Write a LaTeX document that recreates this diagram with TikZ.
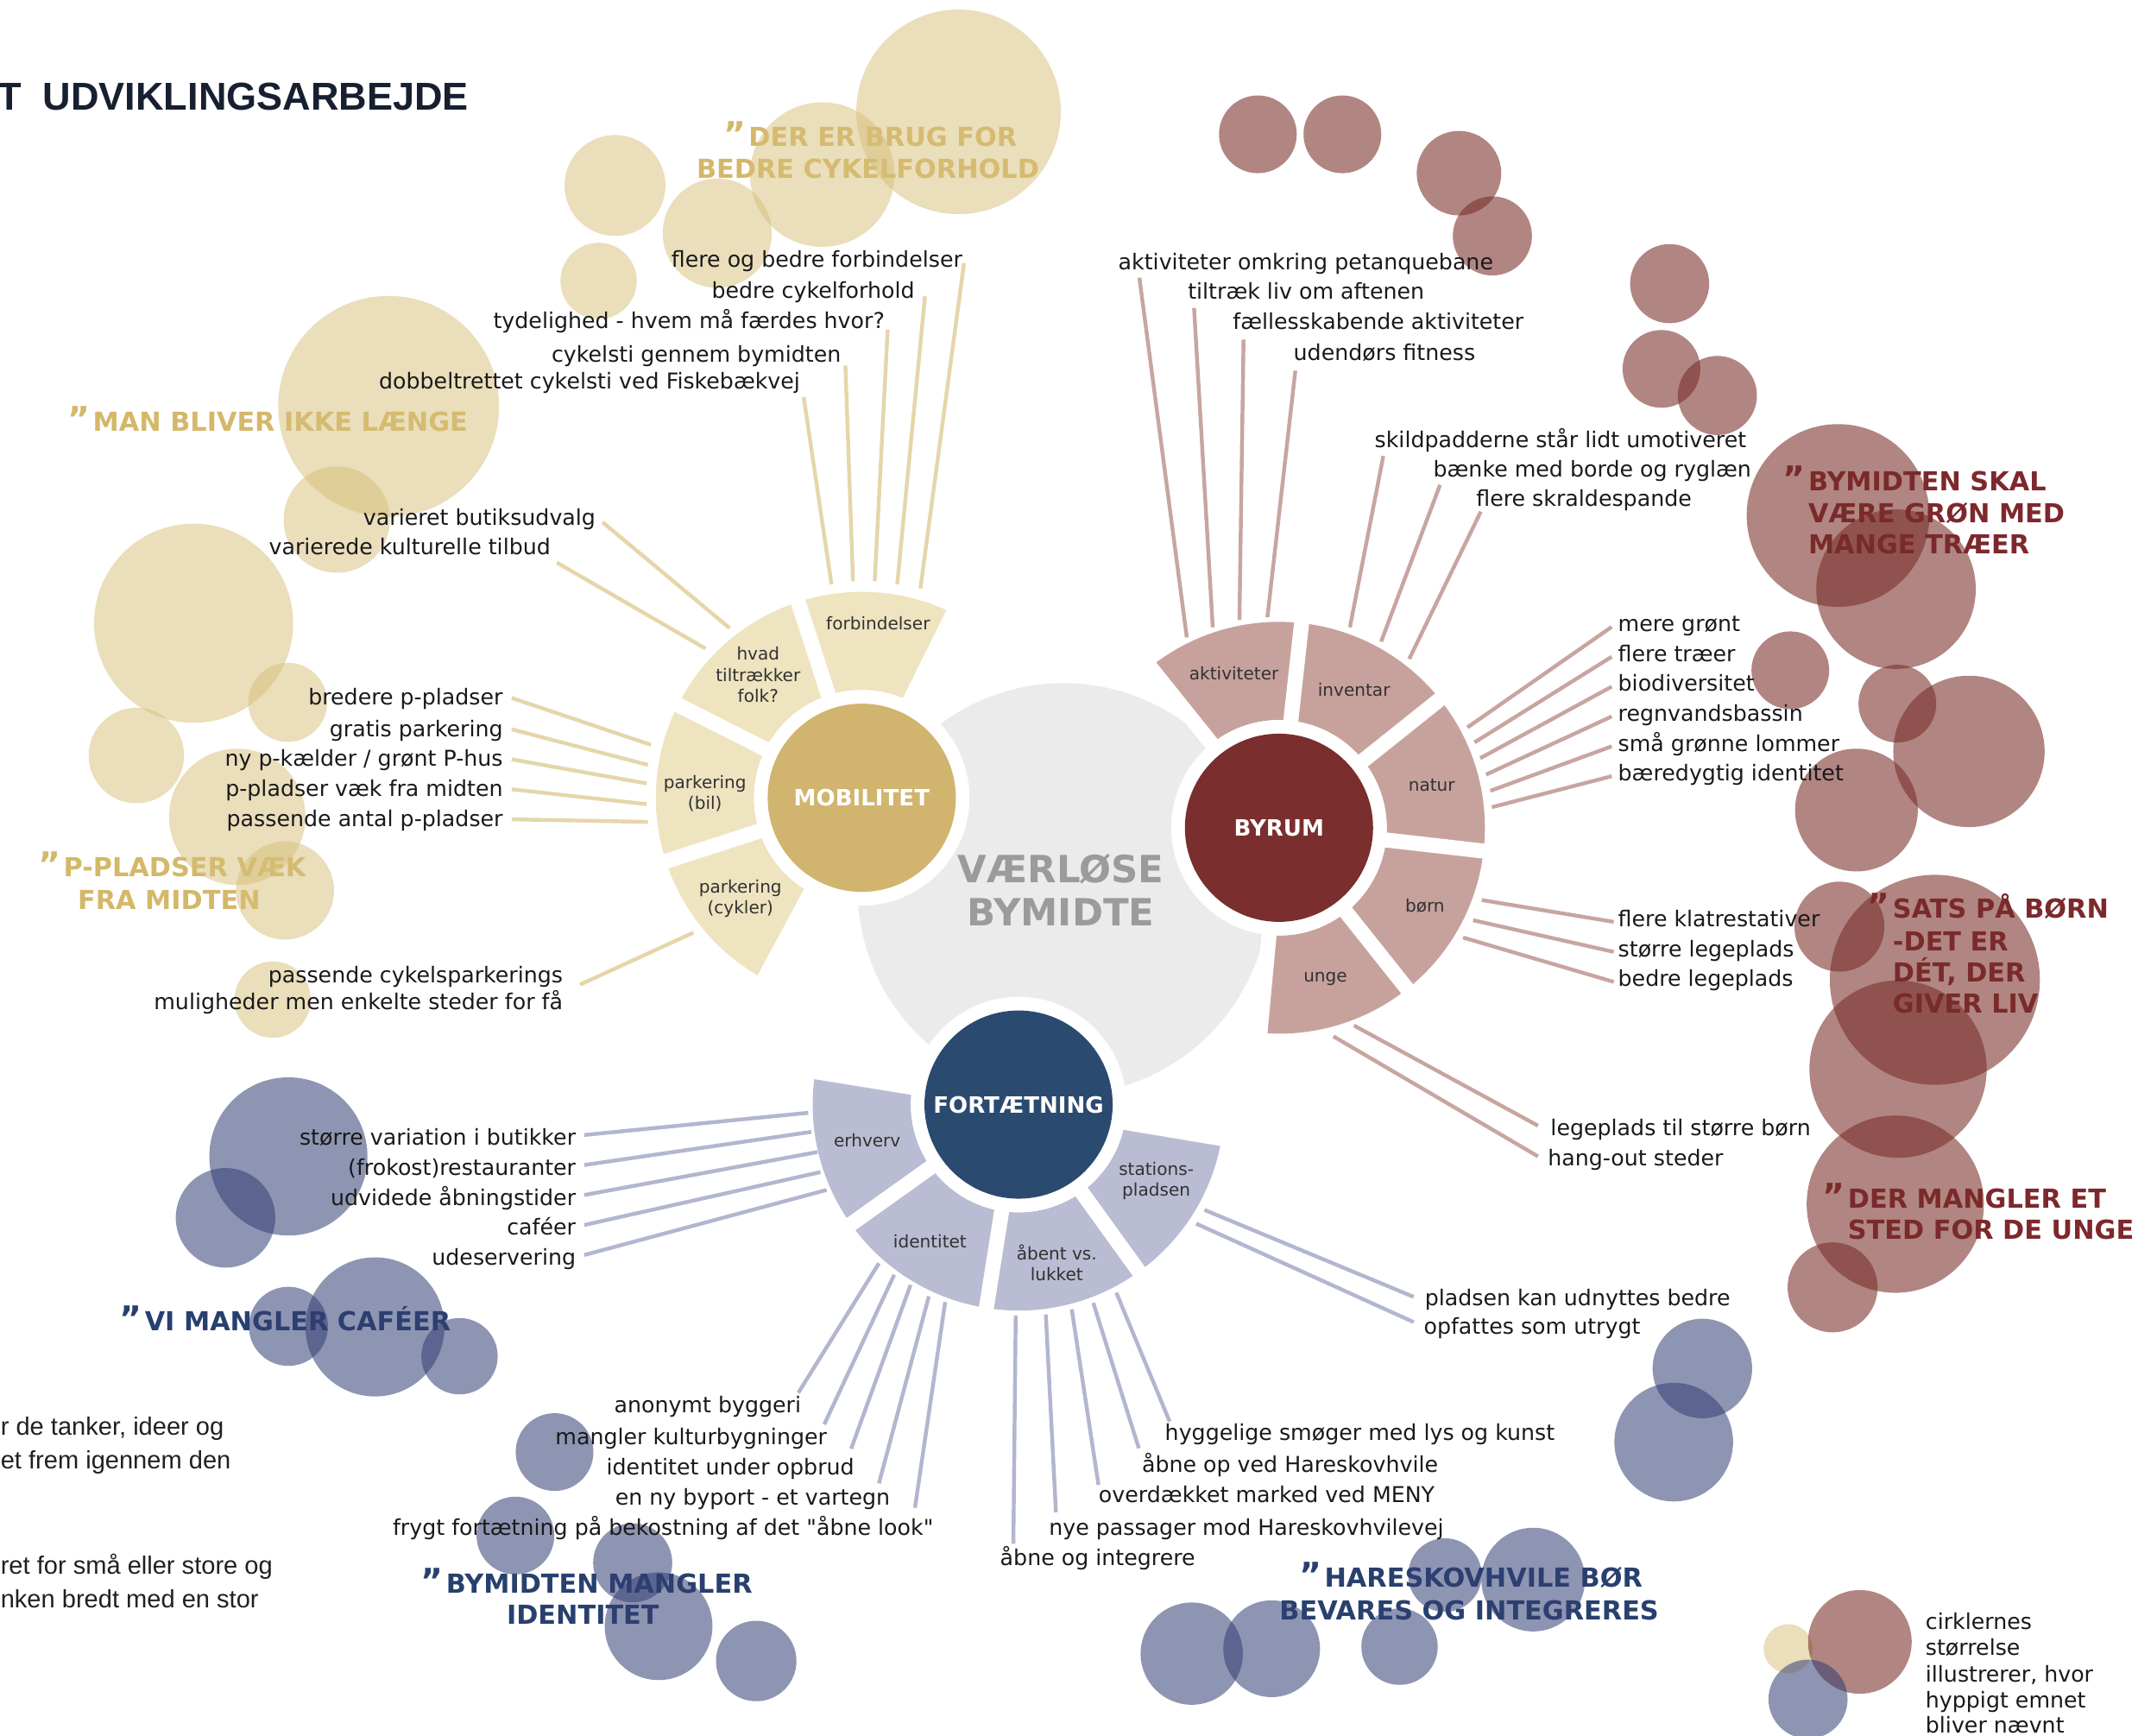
\documentclass[tikz,border=0pt]{standalone}
\usepackage{fontspec}
\setmainfont{DejaVu Sans}[Ligatures=TeXOff]
\newfontfamily\arialf{Liberation Sans}
\definecolor{ywedge}{RGB}{239,228,192}
\definecolor{rwedge}{RGB}{199,162,157}
\definecolor{bwedge}{RGB}{185,188,210}
\definecolor{ylinec}{RGB}{229,214,170}
\definecolor{rlinec}{RGB}{200,165,160}
\definecolor{blinec}{RGB}{178,182,206}
\definecolor{ycat}{RGB}{209,180,110}
\definecolor{rcat}{RGB}{122,46,46}
\definecolor{bcat}{RGB}{43,74,112}
\definecolor{ybub}{RGB}{214,190,120}
\definecolor{rbub}{RGB}{120,45,40}
\definecolor{bbub}{RGB}{50,62,115}
\definecolor{yq}{RGB}{212,184,105}
\definecolor{rq}{RGB}{125,40,45}
\definecolor{bq}{RGB}{40,64,110}
\definecolor{centgray}{RGB}{235,235,235}
\definecolor{centtext}{RGB}{155,155,155}
\definecolor{labc}{RGB}{25,25,25}
\definecolor{wlc}{RGB}{50,50,50}
\definecolor{titlec}{RGB}{22,32,48}
\definecolor{bodyc}{RGB}{35,31,32}
\newcommand{\qmark}{\makebox[21pt][r]{\fontsize{25}{25}\selectfont ”\kern2pt}}
\newcommand{\annsec}[5]{\fill[#1,shift={(#2,#3)}] (#4:151) arc[start angle=#4,end angle=#5,radius=151] -- (#5:79) arc[start angle=#5,end angle=#4,radius=79] -- cycle;}
\newcommand{\gapline}[3]{\draw[white,line width=11pt,shift={(#1,#2)}] (#3:70) -- (#3:158);}
\tikzset{
  lab/.style={inner sep=0pt, text=labc, font=\fontsize{16}{20}\selectfont},
  lw/.style={lab, anchor=base west},
  le/.style={lab, anchor=base east},
  wlab/.style={inner sep=0pt, text=wlc, align=center, font=\fontsize{12.7}{15.5}\selectfont},
  quote/.style={inner sep=0pt, font=\bfseries\fontsize{19.2}{23}\selectfont},
  ybubble/.style={fill=ybub, fill opacity=0.5},
  rbubble/.style={fill=rbub, fill opacity=0.58},
  bbubble/.style={fill=bbub, fill opacity=0.55},
  yconn/.style={draw=ylinec, line width=2.8pt},
  rconn/.style={draw=rlinec, line width=2.8pt},
  bconn/.style={draw=blinec, line width=2.8pt},
  catc/.style={circle, inner sep=0pt, minimum size=138pt, text=white, font=\bfseries\fontsize{16.5}{18}\selectfont},
  bodytext/.style={inner sep=0pt, anchor=base west, text=bodyc, font=\arialf\fontsize{18.4}{22}\selectfont},
  legtext/.style={inner sep=0pt, anchor=base west, text=labc, font=\fontsize{16}{19}\selectfont}
}
\begin{document}
\begin{tikzpicture}[x=1pt,y=-1pt]
\useasboundingbox (0,0) rectangle (1568,1273);

% ---------- quote headings (under the bubbles)
\node[quote,text=yq,anchor=base] (qya) at (637,107) {\qmark DER ER BRUG FOR};
\node[quote,text=yq,anchor=base] (qyb) at (636.5,131) {BEDRE CYKELFORHOLD};
\node[quote,text=yq,anchor=base west] (qyc) at (68,316) {\llap{\qmark}MAN BLIVER IKKE LÆNGE};
\node[quote,text=yq,anchor=base] (qyd) at (125,643) {\qmark P-PLADSER VÆK};
\node[quote,text=yq,anchor=base] (qye) at (124,667) {FRA MIDTEN};
\node[quote,text=rq,anchor=base west] (qra) at (1326,360) {\llap{\qmark}BYMIDTEN SKAL};
\node[quote,text=rq,anchor=base west] (qrb) at (1326,383) {VÆRE GRØN MED};
\node[quote,text=rq,anchor=base west] (qrc) at (1326,406) {MANGE TRÆER};
\node[quote,text=rq,anchor=base west] (qrd) at (1388,673) {\llap{\qmark}SATS PÅ BØRN};
\node[quote,text=rq,anchor=base west] (qre) at (1388,697) {-DET ER};
\node[quote,text=rq,anchor=base west] (qrf) at (1388,720) {DÉT, DER};
\node[quote,text=rq,anchor=base west] (qrg) at (1388,743) {GIVER LIV};
\node[quote,text=rq,anchor=base west] (qrh) at (1355,886) {\llap{\qmark}DER MANGLER ET};
\node[quote,text=rq,anchor=base west] (qri) at (1355,909) {STED FOR DE UNGE};
\node[quote,text=bq,anchor=base west] (qba) at (106,976) {\llap{\qmark}VI MANGLER CAFÉER};
\node[quote,text=bq,anchor=base] (qbb) at (429,1168) {\qmark BYMIDTEN MANGLER};
\node[quote,text=bq,anchor=base] (qbc) at (427.5,1191) {IDENTITET};
\node[quote,text=bq,anchor=base] (qbd) at (1077.5,1164) {\qmark HARESKOVHVILE BØR};
\node[quote,text=bq,anchor=base] (qbe) at (1077.5,1188) {BEVARES OG INTEGRERES};

% ---------- bubbles
\foreach \cx/\cy/\r in {703/82/75, 603/128/53, 526/171/40, 451/136/37, 439/206/28, 285/298/81,
  247/381/39, 142/457/73, 211/515/29, 100/554/35, 174/599/50, 209/653/36, 200/733/28, 1311.5/1209/18}
  \fill[ybubble] (\cx,\cy) circle[radius=\r];
\foreach \cx/\cy/\r in {922.5/98.5/28.5, 984.5/98.5/28.5, 1070/127/31, 1094.5/173/29, 1224.5/208/29,
  1218.5/270.5/28.5, 1259.5/290/29, 1348/378/67, 1390.5/432/58.5, 1313/491.5/28.5, 1391.5/516/28.5,
  1444/551/55.5, 1361.5/594/45, 1349/679.5/33, 1419/718.5/77, 1392/784/65, 1390/883/65, 1344/944/33,
  1364/1204/38}
  \fill[rbubble] (\cx,\cy) circle[radius=\r];
\foreach \cx/\cy/\r in {211.5/848/58, 165.4/893/36.5, 211.5/972.6/29, 275/973/51, 337/994.5/28,
  406.7/1064.8/28.5, 378/1126/28.5, 464/1146/29, 483/1192.5/39.5, 554.6/1218/29.5, 874/1212.6/37.5,
  932.6/1209/35.5, 1026.4/1207.5/28, 1059.7/1155/27, 1124.4/1158.3/38, 1227.5/1057.5/43.5,
  1248.5/1003.5/36.5, 1326/1246/29}
  \fill[bbubble] (\cx,\cy) circle[radius=\r];

% ---------- centre
\node[circle, fill=centgray, minimum size=302pt, inner sep=0pt] (centre) at (780,652) {};
\node[inner sep=0pt, anchor=base, text=centtext, font=\bfseries\fontsize{27.5}{30}\selectfont] (ctA) at (778,647) {VÆRLØSE};
\node[inner sep=0pt, anchor=base, text=centtext, font=\bfseries\fontsize{27.5}{30}\selectfont] (ctB) at (778,679) {BYMIDTE};

% ---------- rings
\annsec{ywedge}{632}{585}{118.3}{296.4}
\annsec{rwedge}{938}{607}{231.3}{455.3}
\annsec{bwedge}{747}{810}{9.5}{189.2}
\foreach \a in {118.3,162,206.8,252,296.4} {\gapline{632}{585}{\a}}
\foreach \a in {231.3,276.3,321.4,366.5,411.5,455.3} {\gapline{938}{607}{\a}}
\foreach \a in {9.5,54.2,99,144.5,189.2} {\gapline{747}{810}{\a}}
\fill[white] (632,585) circle[radius=79];
\fill[white] (938,607) circle[radius=79];
\fill[white] (747,810) circle[radius=79];
\node[catc, fill=ycat] (mob) at (632,585) {MOBILITET};
\node[catc, fill=rcat] (byr) at (938,607) {BYRUM};
\node[catc, fill=bcat] (fort) at (747,810) {FORTÆTNING};

% ---------- wedge labels
\node[wlab] (wforb) at (644,457) {forbindelser};
\node[wlab] (whvad) at (556,495) {hvad\\tiltrækker\\folk?};
\node[wlab] (wbil) at (517,582) {parkering\\(bil)};
\node[wlab] (wcyk) at (543,659) {parkering\\(cykler)};
\node[wlab] (wakt) at (905,494) {aktiviteter};
\node[wlab] (winv) at (993,506) {inventar};
\node[wlab] (wnat) at (1050,576) {natur};
\node[wlab] (wborn) at (1045,664) {børn};
\node[wlab] (wunge) at (972,718) {unge};
\node[wlab] (werh) at (636,836) {erhverv};
\node[wlab] (wid) at (682,910) {identitet};
\node[wlab] (wab) at (775,926) {åbent vs.\\lukket};
\node[wlab] (wst) at (848,866) {stations-\\pladsen};

% ---------- labels: mobilitet
\node[le] (f1) at (706,196) {flere og bedre forbindelser};
\node[le] (f2) at (671,219) {bedre cykelforhold};
\node[le] (f3) at (649,241) {tydelighed - hvem må færdes hvor?};
\node[le] (f4) at (617,265.5) {cykelsti gennem bymidten};
\node[le] (f5) at (587,285) {dobbeltrettet cykelsti ved Fiskebækvej};
\node[le] (h1) at (437,385) {varieret butiksudvalg};
\node[le] (h2) at (404,407) {varierede kulturelle tilbud};
\node[le] (p1) at (369,517) {bredere p-pladser};
\node[le] (p2) at (369,540) {gratis parkering};
\node[le] (p3) at (369,562) {ny p-kælder / grønt P-hus};
\node[le] (p4) at (369,584) {p-pladser væk fra midten};
\node[le] (p5) at (369,606) {passende antal p-pladser};
\node[le] (c1) at (413,720.5) {passende cykelsparkerings};
\node[le] (c2) at (413,740) {muligheder men enkelte steder for få};

% ---------- labels: byrum
\node[lw] (a1) at (820,198) {aktiviteter omkring petanquebane};
\node[lw] (a2) at (871,219.5) {tiltræk liv om aftenen};
\node[lw] (a3) at (904,241.6) {fællesskabende aktiviteter};
\node[lw] (a4) at (948.5,264) {udendørs fitness};
\node[lw] (i1) at (1008,328) {skildpadderne står lidt umotiveret};
\node[lw] (i2) at (1051,349.5) {bænke med borde og ryglæn};
\node[lw] (i3) at (1082.5,371.5) {flere skraldespande};
\node[lw] (n1) at (1186.5,463.2) {mere grønt};
\node[lw] (n2) at (1186.5,485.1) {flere træer};
\node[lw] (n3) at (1186.5,507) {biodiversitet};
\node[lw] (n4) at (1186.5,528.9) {regnvandsbassin};
\node[lw] (n5) at (1186.5,550.8) {små grønne lommer};
\node[lw] (n6) at (1186.5,572.7) {bæredygtig identitet};
\node[lw] (b1) at (1186.5,679.5) {flere klatrestativer};
\node[lw] (b2) at (1186.5,701.5) {større legeplads};
\node[lw] (b3) at (1186.5,723.5) {bedre legeplads};
\node[lw] (u1) at (1137,832.5) {legeplads til større børn};
\node[lw] (u2) at (1135,855) {hang-out steder};

% ---------- labels: fortaetning
\node[le] (e1) at (422.5,839.8) {større variation i butikker};
\node[le] (e2) at (422.5,861.8) {(frokost)restauranter};
\node[le] (e3) at (422.5,883.8) {udvidede åbningstider};
\node[le] (e4) at (422.5,905.8) {caféer};
\node[le] (e5) at (422.5,927.8) {udeservering};
\node[le] (d1) at (587.7,1036) {anonymt byggeri};
\node[le] (d2) at (606.6,1059.3) {mangler kulturbygninger};
\node[le] (d3) at (626.7,1081.4) {identitet under opbrud};
\node[le] (d4) at (653,1103.6) {en ny byport - et vartegn};
\node[le] (d5) at (684.7,1125.7) {frygt fortætning på bekostning af det "åbne look"};
\node[lw] (o5) at (854.2,1056.1) {hyggelige smøger med lys og kunst};
\node[lw] (o4) at (837.3,1079.3) {åbne op ved Hareskovhvile};
\node[lw] (o3) at (805.6,1101.5) {overdækket marked ved MENY};
\node[lw] (o2) at (769.1,1125.7) {nye passager mod Hareskovhvilevej};
\node[lw] (o1) at (733.3,1147.9) {åbne og integrere};
\node[lw] (s1) at (1044.8,957.2) {pladsen kan udnyttes bedre};
\node[lw] (s2) at (1044,978.5) {opfattes som utrygt};

% ---------- wedge-side connector ends
\coordinate (F1) at (675,431.5);   \coordinate (F2) at (658,428.4);   \coordinate (F3) at (641.5,426.2);
\coordinate (F4) at (625.6,426.2); \coordinate (F5) at (609.8,428.4);
\coordinate (H1) at (535.1,460.6); \coordinate (H2) at (517.4,475.6);
\coordinate (P1) at (477.4,546.2); \coordinate (P2) at (475.2,560.9); \coordinate (P3) at (474.3,574.5);
\coordinate (P4) at (474.3,589.7); \coordinate (P5) at (475.2,602.7);
\coordinate (C1) at (508.5,683.9);
\coordinate (A1) at (870.4,467.4); \coordinate (A2) at (889.4,460);   \coordinate (A3) at (909,454.7);
\coordinate (A4) at (929.5,452.6);
\coordinate (I1) at (990,460);     \coordinate (I2) at (1012.9,470.5); \coordinate (I3) at (1033.5,483.2);
\coordinate (N1) at (1076.2,533.4); \coordinate (N2) at (1081.4,544.4); \coordinate (N3) at (1085.6,556);
\coordinate (N4) at (1089.9,568);  \coordinate (N5) at (1093,579.9);  \coordinate (N6) at (1094.1,591.9);
\coordinate (B1) at (1086.7,660);  \coordinate (B2) at (1080.4,674.8); \coordinate (B3) at (1073,687.5);
\coordinate (U1) at (993,752);     \coordinate (U2) at (978,760);
\coordinate (E1) at (592.8,816);   \coordinate (E2) at (595,830);     \coordinate (E3) at (599.5,844.8);
\coordinate (E4) at (601.7,859.5); \coordinate (E5) at (606.2,872.6);
\coordinate (D1) at (644.6,926.3); \coordinate (D2) at (655.8,934.8); \coordinate (D3) at (667.8,942.2);
\coordinate (D4) at (681.2,950.6); \coordinate (D5) at (693.2,954.8);
\coordinate (O1) at (744.9,964.8); \coordinate (O2) at (767,963.9);   \coordinate (O3) at (786,960.1);
\coordinate (O4) at (801.8,955.4); \coordinate (O5) at (818.7,947.9);
\coordinate (S1) at (883.3,887.2); \coordinate (S2) at (877.3,897.3);

% ---------- connectors
\draw[yconn] ([shift={(1,-3)}]f1.base east) -- (F1);
\draw[yconn] ([shift={(7.4,-1.7)}]f2.base east) -- (F2);
\draw[yconn] ([shift={(2,0.6)}]f3.base east) -- (F3);
\draw[yconn] ([shift={(3,2.5)}]f4.base east) -- (F4);
\draw[yconn] ([shift={(2.4,6.2)}]f5.base east) -- (F5);
\draw[yconn] ([shift={(4.9,-2.1)}]h1.base east) -- (H1);
\draw[yconn] ([shift={(4.5,5.6)}]h2.base east) -- (H2);
\foreach \n in {1,...,5} {\draw[yconn] ([shift={(6.3,-5.2)}]p\n.base east) -- (P\n);}
\draw[yconn] ([shift={(12.4,1.5)}]c1.base east) -- (C1);

\draw[rconn] ([shift={(15.6,5.6)}]a1.base west) -- (A1);
\draw[rconn] ([shift={(4.7,6.3)}]a2.base west) -- (A2);
\draw[rconn] ([shift={(8,7.4)}]a3.base west) -- (A3);
\draw[rconn] ([shift={(1.5,7.8)}]a4.base west) -- (A4);
\draw[rconn] ([shift={(6.5,6.4)}]i1.base west) -- (I1);
\draw[rconn] ([shift={(5.1,6.1)}]i2.base west) -- (I2);
\draw[rconn] ([shift={(3.5,3.7)}]i3.base west) -- (I3);
\foreach \n in {1,...,6} {\draw[rconn] ([shift={(-4.5,-3.5)}]n\n.base west) -- (N\n);}
\foreach \n in {1,...,3} {\draw[rconn] ([shift={(-3,-3.5)}]b\n.base west) -- (B\n);}
\draw[rconn] ([shift={(-9,-7)}]u1.base west) -- (U1);
\draw[rconn] ([shift={(-7,-7)}]u2.base west) -- (U2);

\foreach \n in {1,...,5} {\draw[bconn] ([shift={(6,-7.5)}]e\n.base east) -- (E\n);}
\draw[bconn] ([shift={(-2.2,-14.7)}]d1.base east) -- (D1);
\draw[bconn] ([shift={(-2.1,-14.8)}]d2.base east) -- (D2);
\draw[bconn] ([shift={(-2.5,-19)}]d3.base east) -- (D3);
\draw[bconn] ([shift={(-8.4,-15.9)}]d4.base east) -- (D4);
\draw[bconn] ([shift={(-13.7,-20)}]d5.base east) -- (D5);
\draw[bconn] ([shift={(9.9,-15.9)}]o1.base west) -- (O1);
\draw[bconn] ([shift={(5.3,-16.8)}]o2.base west) -- (O2);
\draw[bconn] ([shift={(0,-12.7)}]o3.base west) -- (O3);
\draw[bconn] ([shift={(-2.1,-17.3)}]o4.base west) -- (O4);
\draw[bconn] ([shift={(3.6,-13.7)}]o5.base west) -- (O5);
\draw[bconn] ([shift={(-8,-6.2)}]s1.base west) -- (S1);
\draw[bconn] ([shift={(-7.2,-9)}]s2.base west) -- (S2);

% ---------- title and body text
\node[inner sep=0pt, anchor=base west, text=titlec, font=\arialf\bfseries\fontsize{28.5}{30}\selectfont] (title) at (-2,81) {T\hspace{16pt}UDVIKLINGSARBEJDE};
\node[bodytext] (bt1) at (0.3,1052.7) {r de tanker, ideer og};
\node[bodytext] (bt2) at (0.3,1077.3) {et frem igennem den};
\node[bodytext] (bt3) at (0.3,1154.3) {ret for små eller store og};
\node[bodytext] (bt4) at (0.3,1178.8) {nken bredt med en stor};

% ---------- legend
\node[legtext] (lg1) at (1412,1195) {cirklernes};
\node[legtext] (lg2) at (1412,1214) {størrelse};
\node[legtext] (lg3) at (1412,1233.2) {illustrerer, hvor};
\node[legtext] (lg4) at (1412,1252.4) {hyppigt emnet};
\node[legtext] (lg5) at (1412,1271) {bliver nævnt};
\end{tikzpicture}
\end{document}
